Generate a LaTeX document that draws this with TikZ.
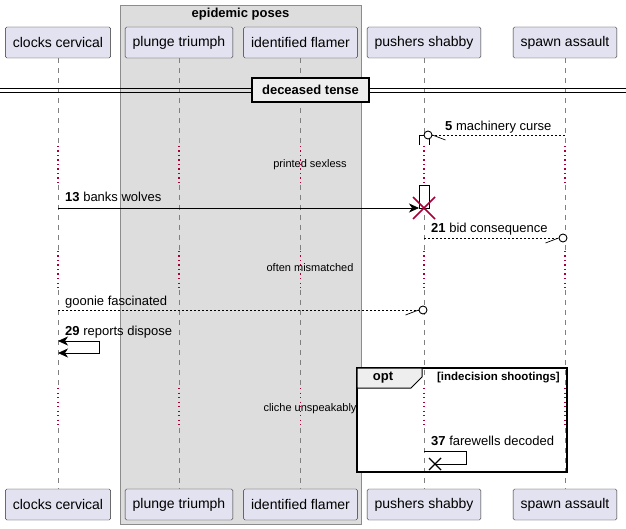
\documentclass[tikz,border=0pt]{standalone}
\usepackage{fontspec}
\setmainfont{Liberation Sans}
\usetikzlibrary{positioning, calc, arrows.meta}

\definecolor{partfill}{HTML}{E2E2F0}
\definecolor{boxgray}{HTML}{DDDDDD}
\definecolor{tabgray}{HTML}{EEEEEE}
\definecolor{delayred}{HTML}{A80036}

\begin{document}
\begin{tikzpicture}[
    x=1pt, y=-1pt,
    part/.style={draw=black!85, fill=partfill, rounded corners=1.5pt, minimum height=31pt, inner xsep=7.5pt, font=\fontsize{14}{16}\selectfont},
    lifeline/.style={black!50, line width=0.7pt, dash pattern=on 5pt off 5pt},
    delayline/.style={delayred, line width=1.1pt, dash pattern=on 1.3pt off 3.2pt},
    msgtext/.style={anchor=base west, inner sep=0pt, font=\fontsize{13}{15}\selectfont},
    delaytext/.style={inner sep=0pt, font=\fontsize{11}{13}\selectfont},
    boldtext/.style={inner sep=0pt, font=\bfseries\fontsize{13}{15}\selectfont},
    sync/.style={-{Stealth[length=10pt, width=9pt, inset=3pt]}, line width=0.8pt},
    selfboth/.style={{Stealth[length=10pt, width=9pt, inset=3pt]}-{Stealth[length=10pt, width=9pt, inset=3pt]}, line width=0.8pt},
    reply/.style={line width=0.7pt, dash pattern=on 2pt off 2pt},
    ohead/.style={circle, draw, line width=0.9pt, minimum size=8pt, inner sep=0pt, fill=white},
    destroy/.style={delayred, line width=1.6pt}
]
\useasboundingbox (0,0) rectangle (626,529);

% group box
\draw[fill=boxgray, draw=black!45] (120,5) rectangle (361,524);
\node[boldtext] (grp) at (240.5,14) {epidemic poses};

% opt frame background
\fill[white] (357,368) rectangle (567,472);

% participants, top and bottom
\node[part] (cc) at (58,42.5) {clocks cervical};
\node[part] (pt) at (179,42.5) {plunge triumph};
\node[part] (idf) at (300.5,42.5) {identified flamer};
\node[part] (ps) at (424,42.5) {pushers shabby};
\node[part] (sa) at (565,42.5) {spawn assault};

\node[part] (cc-b) at (58,504.5) {clocks cervical};
\node[part] (pt-b) at (179,504.5) {plunge triumph};
\node[part] (idf-b) at (300.5,504.5) {identified flamer};
\node[part] (ps-b) at (424,504.5) {pushers shabby};
\node[part] (sa-b) at (565,504.5) {spawn assault};

% lifelines, dotted during the delays
\foreach \p in {cc, pt, idf, ps, sa} {
    \draw[lifeline] (\p.south) -- (\p.south |- 0,145)
        (\p.south |- 0,185) -- (\p.south |- 0,250)
        (\p.south |- 0,290) -- (\p.south |- 0,387)
        (\p.south |- 0,428) -- (\p-b.north);
    \draw[delayline] (\p.south |- 0,146) -- (\p.south |- 0,185)
        (\p.south |- 0,251) -- (\p.south |- 0,290)
        (\p.south |- 0,388) -- (\p.south |- 0,428);
}

% separator
\draw[line width=0.9pt] (0,88) -- (626,88) (0,92) -- (626,92);
\node[draw, line width=1.5pt, fill=tabgray, minimum width=117pt, minimum height=24pt, inner sep=0pt, font=\bfseries\fontsize{13}{15}\selectfont] (sep) at (310.5,90) {deceased tense};

% activation on pushers shabby
\draw[fill=white] (419,145) |- (429,135) -- (429,145);
\draw[fill=white] (419,185) rectangle (429,208);

% 5
\coordinate (sa5) at (565,135);
\node[ohead] (o5) at (428,135) {};
\draw[reply] (sa5) -- (o5);
\draw[line width=0.7pt] (o5.east) -- ++(13,5);
\node[msgtext] (t5) at (445,131) {\textbf{5} machinery curse};

\node[delaytext] (d1) at (310,165) {printed sexless};

% 13
\coordinate (cc13) at (58,208);
\coordinate (ps13) at (419,208);
\coordinate (x13) at (424,208);
\draw[sync] (cc13) -- (ps13);
\draw[destroy] (x13) +(-11,-11) -- +(11,11) +(-11,11) -- +(11,-11);
\node[msgtext] (t13) at (65,202) {\textbf{13} banks wolves};

% 21
\coordinate (ps21) at (424,238);
\node[ohead] (o21) at (563,238) {};
\draw[reply] (ps21) -- (o21);
\draw[line width=0.7pt] (o21.west) -- ++(-13,5);
\node[msgtext] (t21) at (431,233) {\textbf{21} bid consequence};

\node[delaytext] (d2) at (310,268) {often mismatched};

% goonie
\coordinate (ccg) at (58,310);
\node[ohead] (og) at (423,310) {};
\draw[reply] (ccg) -- (og);
\draw[line width=0.7pt] (og.west) -- ++(-13,5);
\node[msgtext] (tg) at (65,305) {goonie fascinated};

% 29
\coordinate (s29a) at (58,341);
\coordinate (s29b) at (58,353);
\draw[selfboth] (s29a) -- ++(41,0) |- (s29b);
\node[msgtext] (t29) at (65,335) {\textbf{29} reports dispose};

\node[delaytext] (d3) at (310,409) {cliche unspeakably};

% opt frame
\draw[line width=1.5pt] (357,368) rectangle (567,472);
\draw[line width=1pt, fill=tabgray] (357,368) -- (422,368) -- (422,377) -- (411,388) -- (357,388) -- cycle;
\node[boldtext] (optlbl) at (383,378) {opt};
\node[inner sep=0pt, anchor=east, font=\bfseries\fontsize{11.5}{13}\selectfont] (cond) at (560,378) {[indecision shootings]};

% 37
\coordinate (s37a) at (424,451);
\coordinate (s37b) at (435,464);
\draw[line width=0.8pt] (s37a) -- ++(42,0) |- (s37b);
\draw[line width=1.4pt] (s37b) +(-6,-6) -- +(6,6) +(-6,6) -- +(6,-6);
\node[msgtext] (t37) at (431,445) {\textbf{37} farewells decoded};

\end{tikzpicture}
\end{document}
